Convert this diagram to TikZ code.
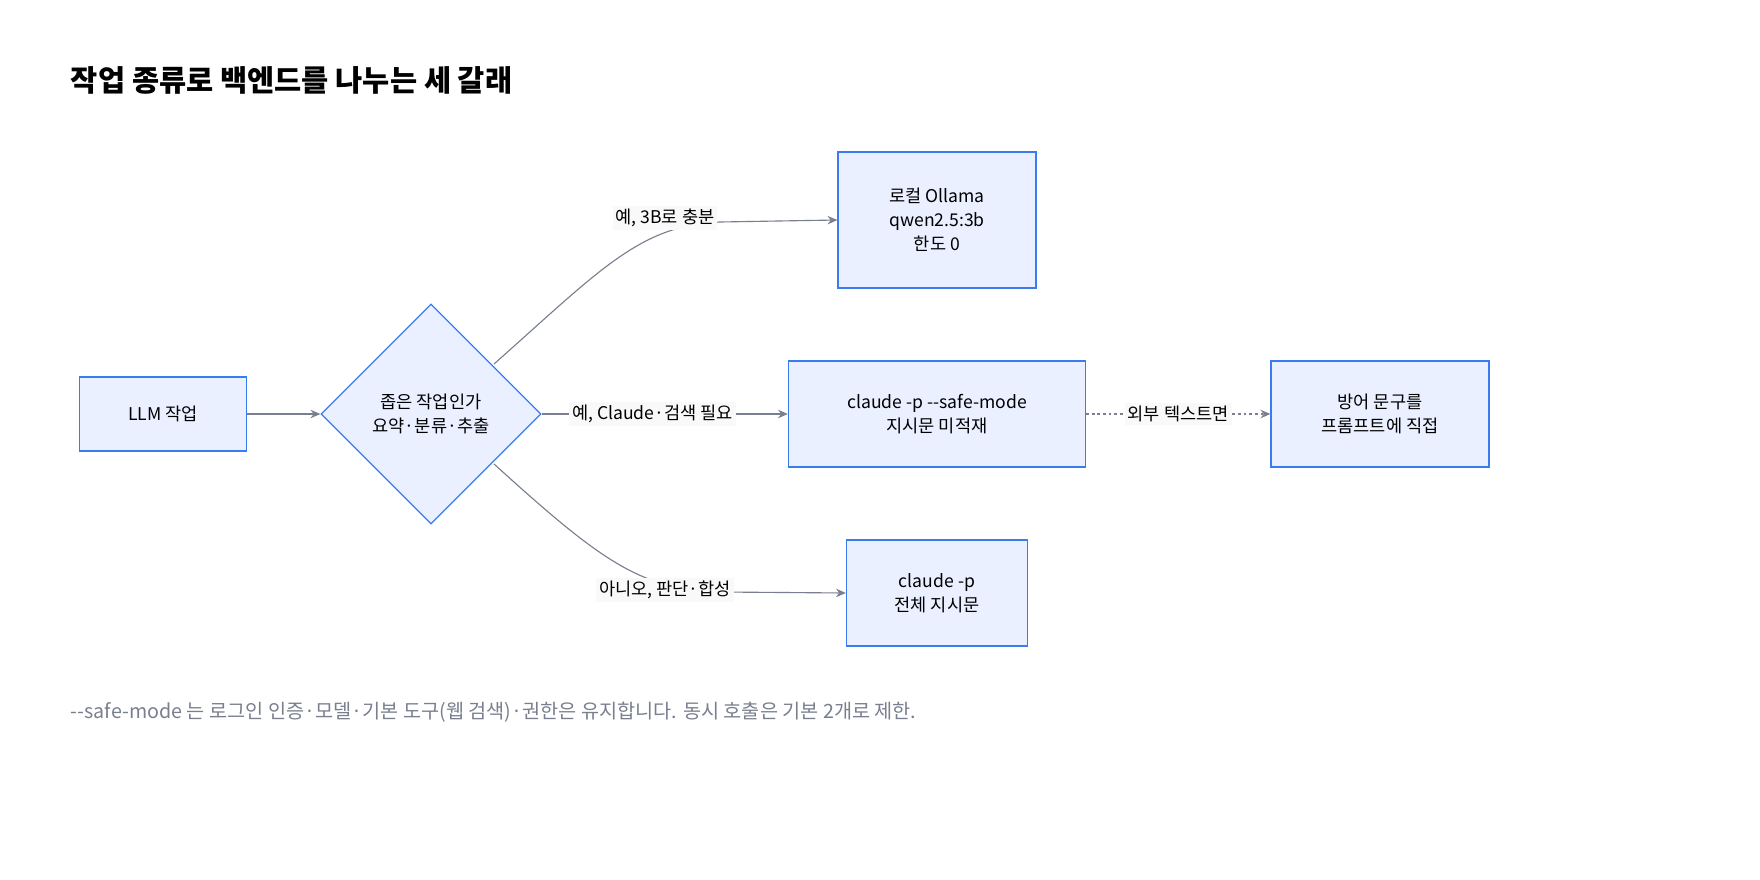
\documentclass[tikz,border=0pt]{standalone}
\usepackage{fontspec}
\setmainfont{Noto Sans CJK KR}
\usetikzlibrary{shapes.geometric,arrows.meta}
\definecolor{boxfill}{HTML}{EAF0FF}
\definecolor{boxline}{HTML}{3B7BF0}
\definecolor{edgegray}{HTML}{7A7F8F}
\definecolor{notegray}{HTML}{7A7F8F}
\tikzset{
  flowbox/.style={draw=boxline, fill=boxfill, line width=0.9pt, align=center, font=\fontsize{12.5}{17}\selectfont},
  edge/.style={draw=edgegray, line width=0.8pt, -{Stealth[length=7pt,width=6pt]}},
  elabel/.style={fill=white!95!gray, inner sep=2pt, font=\fontsize{12.5}{15}\selectfont}
}
\begin{document}
\begin{tikzpicture}[x=0.025cm, y=-0.025cm]
  \useasboundingbox[fill=white] (0,0) rectangle (1760,880);
  \node[anchor=west, font=\fontsize{21}{25}\selectfont\bfseries] (title) at (66,80) {작업 종류로 백엔드를 나누는 세 갈래};
  \node[flowbox, minimum width=167*0.025cm, minimum height=74*0.025cm] (llm) at (163,414) {LLM 작업};
  \node[flowbox, diamond, minimum width=220*0.025cm, minimum height=220*0.025cm, inner sep=0pt] (q) at (431,414) {좁은 작업인가\\요약·분류·추출};
  \node[flowbox, minimum width=198*0.025cm, minimum height=136*0.025cm] (local) at (937,220) {로컬 Ollama\\qwen2.5:3b\\한도 0};
  \node[flowbox, minimum width=297*0.025cm, minimum height=106*0.025cm] (safe) at (937,414) {claude -p {-}{-}safe-mode\\지시문 미적재};
  \node[flowbox, minimum width=218*0.025cm, minimum height=106*0.025cm] (guard) at (1380,414) {방어 문구를\\프롬프트에 직접};
  \node[flowbox, minimum width=181*0.025cm, minimum height=106*0.025cm] (full) at (937,593) {claude -p\\전체 지시문};
  \draw[edge] (llm) -- (q);
  \draw[edge] (494,364) .. controls (600,270) and (640,225) .. (720,222) -- (local.west);
  \node[elabel] at (665,218) {예, 3B로 충분};
  \draw[edge] (q.east) -- (safe.west) node[elabel, pos=0.45] {예, Claude·검색 필요};
  \draw[edge, dashed, dash pattern=on 2pt off 2pt] (safe.east) -- (guard.west) node[elabel, pos=0.5] {외부 텍스트면};
  \draw[edge] (494,464) .. controls (600,560) and (640,590) .. (720,592) -- (full.west);
  \node[elabel] at (665,590) {아니오, 판단·합성};
  \node[anchor=west, text=notegray, font=\fontsize{14}{17}\selectfont] (note) at (66,712) {{-}{-}safe-mode 는 로그인 인증·모델·기본 도구(웹 검색)·권한은 유지합니다. 동시 호출은 기본 2개로 제한.};
\end{tikzpicture}
\end{document}
